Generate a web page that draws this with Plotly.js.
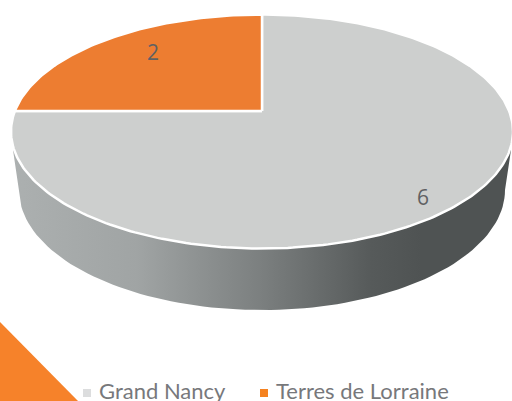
<!DOCTYPE html>
<html><head><meta charset="utf-8">
<script src="https://cdn.plot.ly/plotly-3.0.1.min.js"></script>
<style>html,body{margin:0;padding:0;background:#fff;overflow:hidden}#c{width:512px;height:401px}</style>
</head><body><div id="c"></div>
<script>
const categories = ["Grand Nancy", "Terres de Lorraine"];
const values = [6, 2];
const sliceColors = ["#CDCFCE", "#ED7D31"];
const legendColors = ["#DCDDDE", "#F58220"];

// Tilted-disc geometry in the pixel space of the hidden axes
const top_ = {cx:262, cy:131.5, rx:251, ry:117, ax:262, ay:111};
const low = {cx:262, cy:190, rx:243, ry:120};
const labelPos = [[423,200],[153,55]];
const legendPos = [[87,393],[264,393]];
const legendTextX = [98,275];

function rim(phi){
  const dx = Math.sin(phi)*top_.rx, dy = -Math.cos(phi)*top_.ry;
  const ox = (top_.ax-top_.cx)/top_.rx, oy = (top_.ay-top_.cy)/top_.ry;
  const ux = dx/top_.rx, uy = dy/top_.ry;
  const a = ux*ux+uy*uy, b = 2*(ox*ux+oy*uy), c = ox*ox+oy*oy-1;
  const s = (-b+Math.sqrt(b*b-4*a*c))/(2*a);
  return [top_.ax+s*dx, top_.ay+s*dy];
}
const total = values.reduce((a,b)=>a+b,0);
const traces = [];

// side wall
const sx=[13], sy=[150];
for(let d=180;d>=0;d-=2){const t=d*Math.PI/180; sx.push(low.cx+low.rx*Math.cos(t)); sy.push(low.cy+low.ry*Math.sin(t));}
sx.push(511,13); sy.push(150,150);
traces.push({x:sx,y:sy,mode:'lines',line:{width:0},fill:'toself',hoverinfo:'skip',showlegend:false,
  fillgradient:{type:'horizontal',colorscale:[[0,'#ACB0B0'],[0.25,'#A0A4A4'],[0.5,'#7B7F7F'],[0.72,'#565A5A'],[0.82,'#4F5353'],[1,'#4F5353']]}});

// slices
let acc=0;
values.forEach((v,i)=>{
  const a0=acc/total*2*Math.PI, a1=(acc+v)/total*2*Math.PI; acc+=v;
  const x=[top_.ax], y=[top_.ay];
  const n=Math.ceil((a1-a0)/(Math.PI/180));
  for(let k=0;k<=n;k++){const p=rim(a0+(a1-a0)*k/n); x.push(p[0]); y.push(p[1]);}
  x.push(top_.ax); y.push(top_.ay);
  traces.push({x,y,mode:'lines',name:categories[i],line:{color:'#fff',width:2.5},fill:'toself',fillcolor:sliceColors[i],hoverinfo:'name',showlegend:false});
});

// value labels
traces.push({x:labelPos.map(p=>p[0]),y:labelPos.map(p=>p[1]),mode:'text',text:values.map(String),
  textfont:{family:'"Open Sans", Lato, sans-serif',size:21,color:'#5F6163'},textposition:'middle center',hoverinfo:'skip',showlegend:false});

// legend markers
traces.push({x:legendPos.map(p=>p[0]),y:legendPos.map(p=>p[1]),mode:'markers',
  marker:{symbol:'square',size:8,color:legendColors},hoverinfo:'skip',showlegend:false});

const layout = {
  width:512,height:401,margin:{l:0,r:0,t:0,b:0},paper_bgcolor:'#fff',plot_bgcolor:'#fff',showlegend:false,
  xaxis:{range:[0,512],visible:false,fixedrange:true},
  yaxis:{range:[401,0],visible:false,fixedrange:true},
  shapes:[{type:'path',path:'M0,322 L78,401 L0,401 Z',fillcolor:'#F6822A',line:{width:0},layer:'below'}],
  annotations:categories.map((c,i)=>({x:legendTextX[i]-1,y:390,xref:'x',yref:'y',xanchor:'left',yanchor:'middle',
    text:c,showarrow:false,font:{family:'Lato, "Open Sans", sans-serif',size:22,color:'#77787B'}}))
};
Plotly.newPlot('c',traces,layout,{displayModeBar:false,staticPlot:true});
</script></body></html>
